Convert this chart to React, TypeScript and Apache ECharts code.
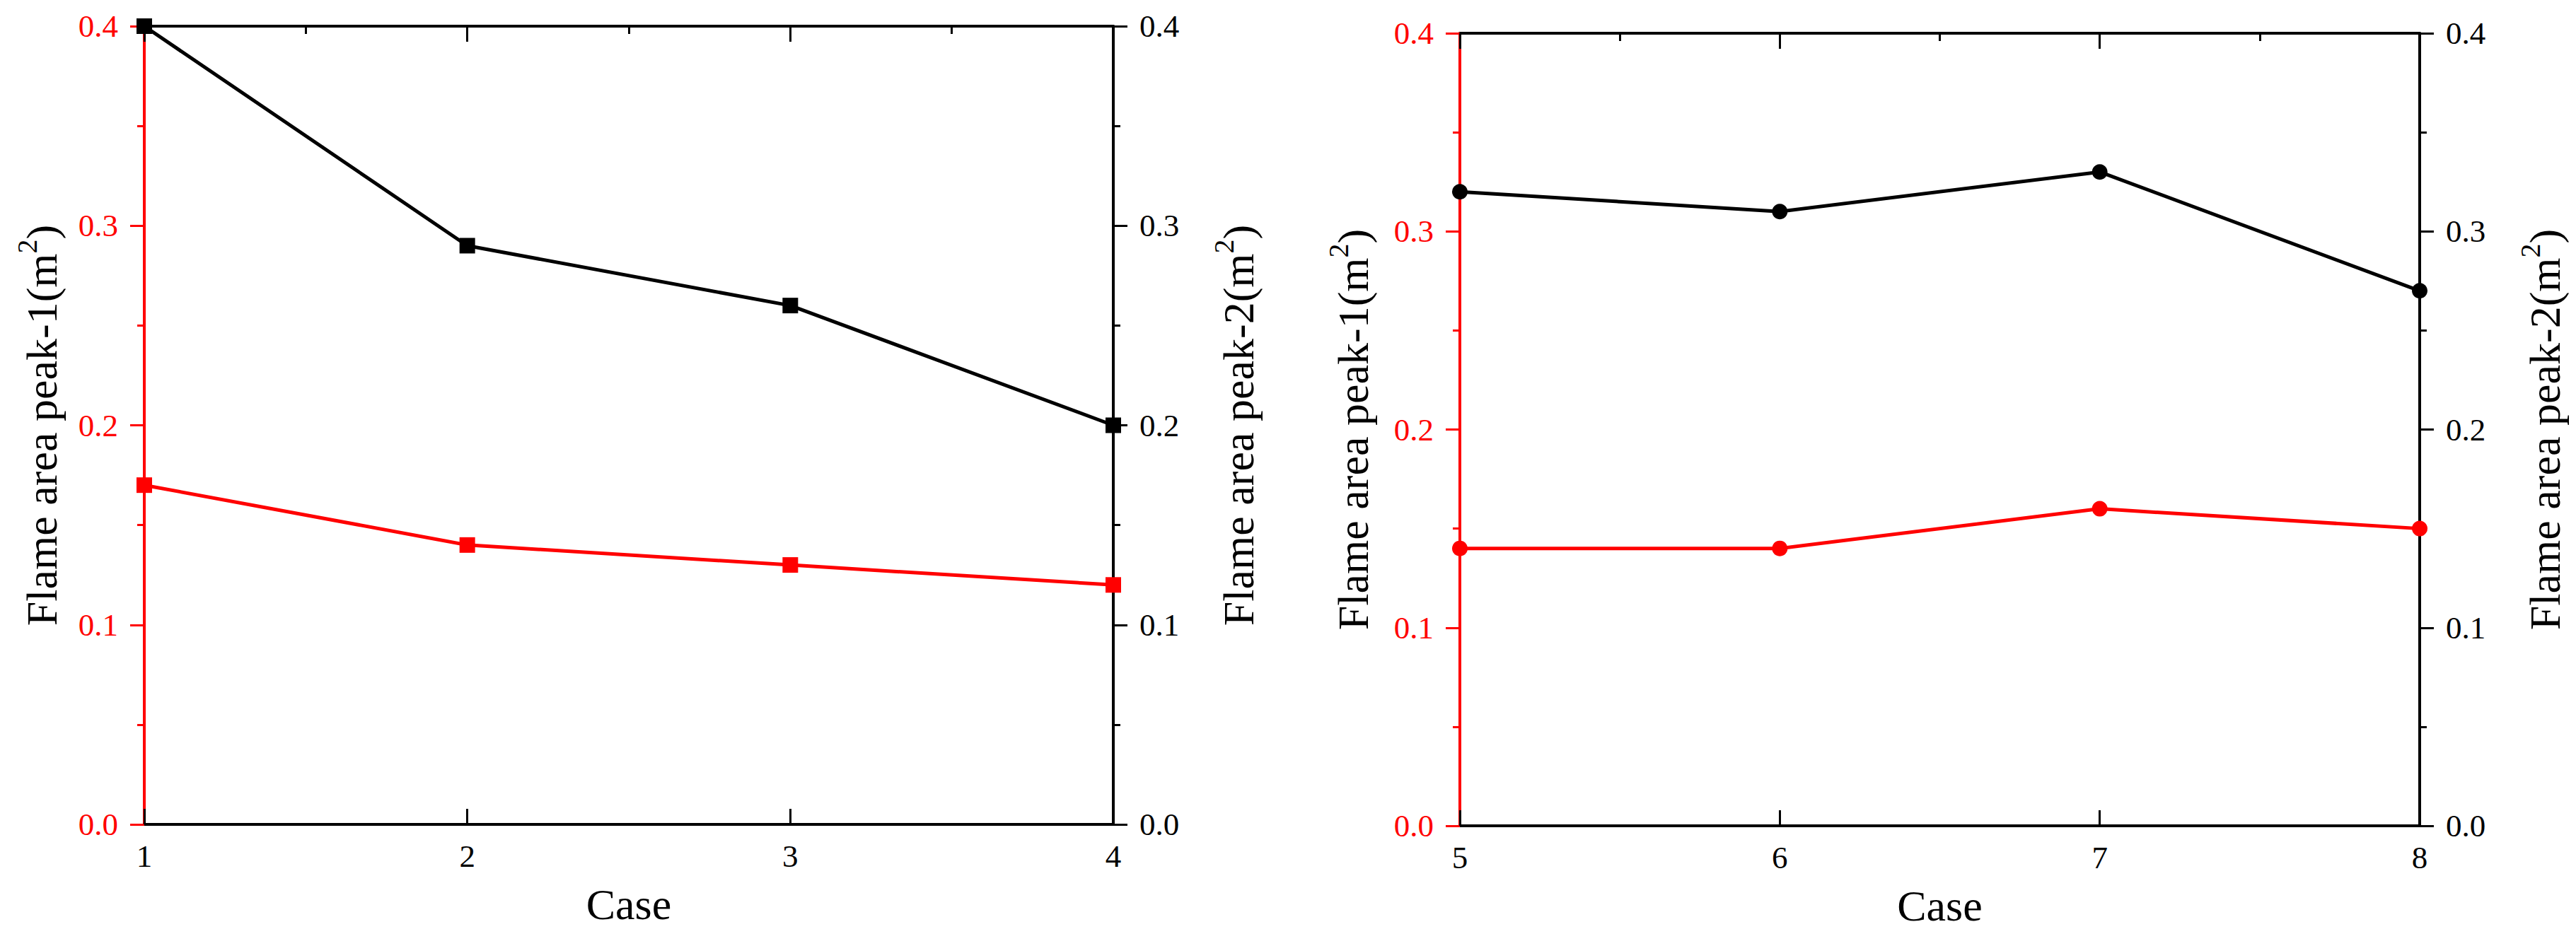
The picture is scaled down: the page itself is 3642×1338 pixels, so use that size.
import React, { useEffect, useRef } from "react";
import * as echarts from "echarts";

const casesLeft = [1, 2, 3, 4];
const peak1Left = [0.17, 0.14, 0.13, 0.12];
const peak2Left = [0.4, 0.29, 0.26, 0.2];

const casesRight = [5, 6, 7, 8];
const peak1Right = [0.14, 0.14, 0.16, 0.15];
const peak2Right = [0.32, 0.31, 0.33, 0.27];

const xTitle = "Case";
const yTitle1 = "{a|Flame area peak-1(m}{s|2}{a|)}";
const yTitle2 = "{a|Flame area peak-2(m}{s|2}{a|)}";

const FONT = "Liberation Serif";
const RED = "#ff0000";
const BLACK = "#000000";

function pairs(xs: number[], ys: number[]) {
  return xs.map((x, i) => [x, ys[i]]);
}

function bottomX(gridIndex: number, min: number, max: number) {
  return {
    gridIndex,
    type: "value",
    position: "bottom",
    min,
    max,
    interval: 1,
    axisLine: { show: true, onZero: false, lineStyle: { color: BLACK, width: 4 } },
    axisTick: { show: true, inside: true, length: 22, lineStyle: { color: BLACK, width: 3 } },
    minorTick: { show: false },
    splitLine: { show: false },
    axisLabel: { show: true, color: BLACK, fontSize: 45, fontFamily: FONT, margin: 22 },
    name: xTitle,
    nameLocation: "middle",
    nameGap: 82,
    nameTextStyle: { color: BLACK, fontSize: 62, fontFamily: FONT },
  };
}

function topX(gridIndex: number, min: number, max: number) {
  return {
    gridIndex,
    type: "value",
    position: "top",
    min,
    max,
    interval: 1,
    axisLine: { show: true, onZero: false, lineStyle: { color: BLACK, width: 4 } },
    axisTick: { show: true, inside: true, length: 22, lineStyle: { color: BLACK, width: 3 } },
    minorTick: { show: true, splitNumber: 2, length: 11, lineStyle: { color: BLACK, width: 3 } },
    splitLine: { show: false },
    axisLabel: { show: false },
  };
}

function yAx(gridIndex: number, position: string, color: string, name: string, nameGap: number, labelColor: string) {
  return {
    gridIndex,
    type: "value",
    position,
    min: 0,
    max: 0.4,
    interval: 0.1,
    axisLine: { show: true, onZero: false, lineStyle: { color, width: 4 } },
    axisTick: { show: true, inside: false, length: 20, lineStyle: { color, width: 3 } },
    minorTick: { show: true, splitNumber: 2, length: 10, lineStyle: { color, width: 3 } },
    splitLine: { show: false },
    axisLabel: {
      show: true,
      color: labelColor,
      fontSize: 45,
      fontFamily: FONT,
      margin: 37,
      formatter: (v: number) => v.toFixed(1),
    },
    name,
    nameLocation: "middle",
    nameRotate: 90,
    nameGap,
    nameTextStyle: {
      color: BLACK,
      fontSize: 62,
      fontFamily: FONT,
      rich: {
        a: { color: BLACK, fontSize: 62, fontFamily: FONT, lineHeight: 72, verticalAlign: "bottom" },
        s: { color: BLACK, fontSize: 40, fontFamily: FONT, lineHeight: 40, verticalAlign: "top" },
      },
    },
  };
}

function lineSeries(xi: number, yi: number, data: number[][], color: string, symbol: string) {
  return {
    type: "line",
    xAxisIndex: xi,
    yAxisIndex: yi,
    data,
    symbol,
    symbolSize: 22,
    showSymbol: true,
    itemStyle: { color },
    lineStyle: { color, width: 5 },
    z: 3,
  };
}

export default function App() {
  const ref = useRef<HTMLDivElement>(null);
  useEffect(() => {
    if (!ref.current) return;
    const chart = echarts.init(ref.current, null, { renderer: "svg" });
    chart.setOption({
      animation: false,
      backgroundColor: "#ffffff",
      textStyle: { fontFamily: FONT },
      grid: [
        { left: 204, top: 37, width: 1370, height: 1129 },
        { left: 2064, top: 47, width: 1357, height: 1121 },
      ],
      xAxis: [
        bottomX(0, 1, 4),
        topX(0, 1, 4),
        bottomX(1, 5, 8),
        topX(1, 5, 8),
      ],
      yAxis: [
        yAx(0, "left", RED, yTitle1, 114, RED),
        yAx(0, "right", BLACK, yTitle2, 136, BLACK),
        yAx(1, "left", RED, yTitle1, 120, RED),
        yAx(1, "right", BLACK, yTitle2, 136, BLACK),
      ],
      series: [
        lineSeries(0, 0, pairs(casesLeft, peak1Left), RED, "rect"),
        lineSeries(0, 1, pairs(casesLeft, peak2Left), BLACK, "rect"),
        lineSeries(2, 2, pairs(casesRight, peak1Right), RED, "circle"),
        lineSeries(2, 3, pairs(casesRight, peak2Right), BLACK, "circle"),
      ],
    });
    return () => chart.dispose();
  }, []);
  return (
    <div
      ref={ref}
      style={{ position: "fixed", left: 0, top: 0, width: 3642, height: 1338, background: "#fff" }}
    />
  );
}
